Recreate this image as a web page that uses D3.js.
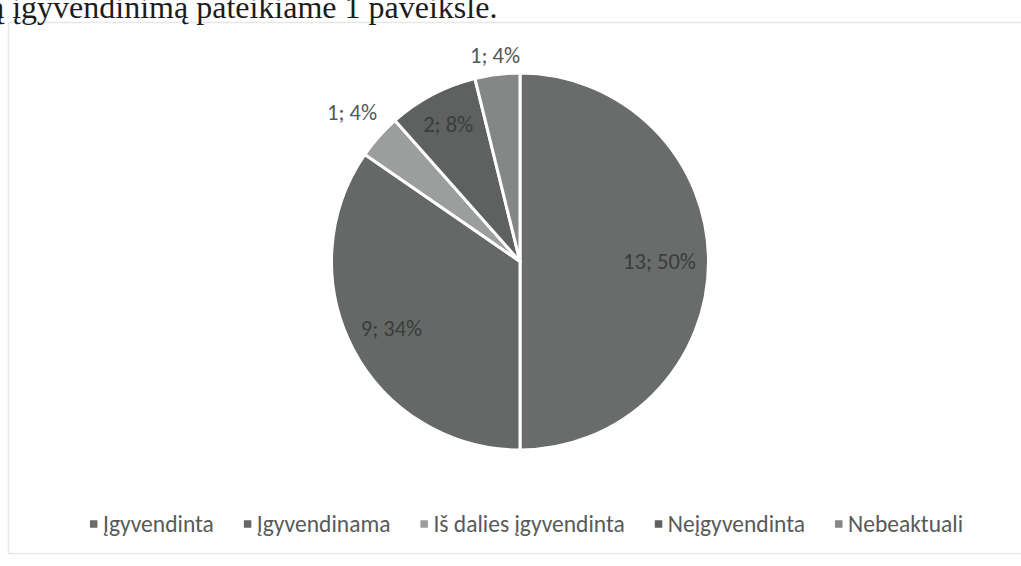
<!DOCTYPE html>
<html>
<head>
<meta charset="utf-8">
<script src="https://cdn.jsdelivr.net/npm/d3@7"></script>
<style>
  html, body { margin: 0; padding: 0; background: #ffffff; }
  svg { display: block; }
</style>
</head>
<body>
<svg id="chart" width="1021" height="566"></svg>
<script>
// ---- data ----
const categories = ["Įgyvendinta", "Įgyvendinama", "Iš dalies įgyvendinta", "Neįgyvendinta", "Nebeaktuali"];
const values = [13, 9, 1, 2, 1];
const percentLabels = ["50%", "34%", "4%", "8%", "4%"];
const sliceColors = ["#696c6b", "#656867", "#9c9e9d", "#5e6160", "#848786"];
const captionText = "ą įgyvendinimą pateikiame 1 paveiksle.";

const svg = d3.select("#chart");
const W = 1021, H = 566;

svg.append("rect").attr("x", 0).attr("y", 0).attr("width", W).attr("height", H).attr("fill", "#ffffff");

// faint chart frame
svg.append("rect")
  .attr("x", 8.5).attr("y", 22.5).attr("width", 1030).attr("height", 531)
  .attr("fill", "none").attr("stroke", "#e6e8e7").attr("stroke-width", 1.5);

// document text above chart (cut off at top, as in the scan)
svg.append("text")
  .attr("x", -10).attr("y", 18)
  .attr("font-family", "'Liberation Serif', 'DejaVu Serif', serif")
  .attr("font-size", 32)
  .attr("fill", "#1c1c1c")
  .text(captionText);

// ---- pie ----
const cx = 520, cy = 261.5, r = 188.5;
const pie = d3.pie().sort(null).value(d => d)
  .startAngle(0).endAngle(2 * Math.PI);
const arcs = pie(values);
const arc = d3.arc().innerRadius(0).outerRadius(r);
const color = d3.scaleOrdinal().domain(categories).range(sliceColors);

const g = svg.append("g").attr("transform", `translate(${cx},${cy})`);
g.selectAll("path.slice")
  .data(arcs)
  .join("path")
  .attr("class", "slice")
  .attr("d", arc)
  .attr("fill", (d, i) => color(categories[i]))
  .attr("stroke", "#ffffff")
  .attr("stroke-width", 3)
  .attr("stroke-linejoin", "round");

// labels
const labelFont = "Carlito, 'Open Sans', 'DejaVu Sans', sans-serif";
const labelRadius = [0.74, 0.77, 1.19, 0.82, 1.1];
const insideFlags = [true, true, false, true, false];
const labelInfo = arcs.map((d, i) => {
  const mid = (d.startAngle + d.endAngle) / 2;
  const rad = r * labelRadius[i];
  return {
    x: Math.sin(mid) * rad,
    y: -Math.cos(mid) * rad,
    inside: insideFlags[i],
    text: values[i] + "; " + percentLabels[i]
  };
});
g.selectAll("text.lbl")
  .data(labelInfo)
  .join("text")
  .attr("class", "lbl")
  .attr("x", d => d.x)
  .attr("y", d => d.y)
  .attr("text-anchor", "middle")
  .attr("dominant-baseline", "central")
  .attr("font-family", labelFont)
  .attr("font-size", 22.5)
  .attr("fill", d => d.inside ? "#3a3d3c" : "#555857")
  .text(d => d.text);

// ---- legend ----
const legend = svg.append("g");
const legendY = 524;
const items = legend.selectAll("g.item")
  .data(categories)
  .join("g")
  .attr("class", "item");
items.append("rect")
  .attr("width", 7.5).attr("height", 7.5)
  .attr("y", legendY - 3.75)
  .attr("fill", d => color(d));
items.append("text")
  .attr("x", 13)
  .attr("y", legendY)
  .attr("dominant-baseline", "central")
  .attr("font-family", labelFont)
  .attr("font-size", 23.5)
  .attr("fill", "#575a59")
  .text(d => d);
const gap = 30;
let widths = [];
items.each(function () { widths.push(this.getBBox().width); });
const total = d3.sum(widths) + gap * (widths.length - 1);
let x0 = 526.5 - total / 2;
items.attr("transform", (d, i) => {
  const t = `translate(${x0},0)`;
  x0 += widths[i] + gap;
  return t;
});
</script>
</body>
</html>
